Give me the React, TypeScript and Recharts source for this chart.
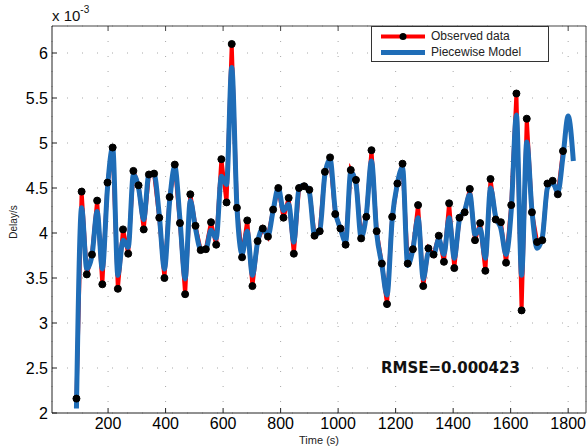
import { CartesianGrid, Line, LineChart, XAxis, YAxis } from "recharts";

// sample times (s)
const times = [
  90, 108, 126, 144, 162, 180, 198, 216, 234, 252, 270, 288, 306, 324, 342, 360, 378, 396, 414, 432,
  450, 468, 486, 504, 522, 540, 558, 576, 594, 612, 630, 648, 666, 684, 702, 720, 738, 756, 774, 792,
  810, 828, 846, 864, 882, 900, 918, 936, 954, 972, 990, 1008, 1026, 1044, 1062, 1080, 1098, 1116, 1134, 1152,
  1170, 1188, 1206, 1224, 1242, 1260, 1278, 1296, 1314, 1332, 1350, 1368, 1386, 1404, 1422, 1440, 1458, 1476, 1494, 1512,
  1530, 1548, 1566, 1584, 1602, 1620, 1638, 1656, 1674, 1692, 1710, 1728, 1746, 1764, 1782, 1800, 1818,
];

// observed delay (x 10^-3 s)
const observed = [
  2.16, 4.46, 3.54, 3.76, 4.36, 3.43, 4.56, 4.95, 3.38, 4.04, 3.77, 4.69, 4.53, 4.04, 4.65, 4.66, 4.17, 3.5, 4.4, 4.76,
  4.11, 3.32, 4.43, 4.08, 3.81, 3.82, 4.12, 3.87, 4.82, 4.34, 6.1, 4.28, 3.73, 4.14, 3.41, 3.91, 4.05, 3.96, 4.26, 4.5,
  4.17, 4.39, 3.77, 4.5, 4.52, 4.48, 3.97, 4.02, 4.68, 4.84, 4.21, 4.05, 3.87, 4.7, 4.59, 3.94, 4.18, 4.92, 4.02, 3.66,
  3.21, 4.18, 4.55, 4.77, 3.66, 3.82, 4.31, 3.41, 3.83, 3.76, 3.97, 3.68, 4.33, 3.61, 4.17, 4.23, 4.49, 3.92, 4.11, 3.58,
  4.6, 4.15, 4.12, 3.67, 4.31, 5.55, 3.14, 5.27, 4.23, 3.9, 3.92, 4.55, 4.58, 4.43, 4.91,
];

// piecewise model (x 10^-3 s)
const model = [
  2.05, 4.28, 3.6, 3.75, 4.24, 3.6, 4.5, 4.95, 3.53, 3.92, 3.84, 4.65, 4.5, 4.15, 4.65, 4.65, 4.2, 3.6, 4.35, 4.74,
  4.15, 3.49, 4.36, 4.05, 3.82, 3.82, 4.03, 3.94, 4.63, 4.54, 5.84, 4.3, 3.77, 4.02, 3.53, 3.9, 4.05, 3.97, 4.25, 4.5,
  4.25, 4.32, 3.9, 4.5, 4.53, 4.45, 3.98, 4.02, 4.65, 4.82, 4.25, 4.05, 3.9, 4.68, 4.55, 3.95, 4.2, 4.8, 4.0, 3.65,
  3.31, 4.15, 4.55, 4.73, 3.64, 3.82, 4.17, 3.49, 3.78, 3.76, 3.93, 3.76, 4.17, 3.72, 4.15, 4.25, 4.43, 3.98, 4.05, 3.72,
  4.5, 4.18, 4.05, 3.76, 4.25, 5.31, 3.53, 5.01, 4.25, 3.83, 3.95, 4.5, 4.56, 4.45, 4.85, 5.3, 4.8,
];

const xTicks = [200, 400, 600, 800, 1000, 1200, 1400, 1600, 1800];
const yTicks = [2, 2.5, 3, 3.5, 4, 4.5, 5, 5.5, 6];

const data = times.map((t, i) => ({
  t,
  obs: i < observed.length ? observed[i] : null,
  model: model[i],
}));

const font = "'Liberation Sans', Arial, sans-serif";
const emptyTick = () => <g />;

export default function App() {
  return (
    <div style={{ position: "absolute", left: 0, top: 0, width: 587, height: 447, background: "#fff", fontFamily: font }}>
      <LineChart width={587} height={447} data={data} margin={{ top: 25, right: 0, bottom: 12, left: 0 }}>
        <CartesianGrid stroke="#a8a8a8" strokeDasharray="1 14" />
        <XAxis
          dataKey="t"
          type="number"
          domain={[5, 1862]}
          ticks={xTicks}
          allowDataOverflow
          height={22}
          tickSize={-5}
          tickMargin={10}
          stroke="#222"
          tick={{ fill: "#000", fontSize: 16, fontFamily: font }}
        />
        <XAxis xAxisId="top" orientation="top" dataKey="t" type="number" domain={[5, 1862]} ticks={xTicks}
          height={1} tickSize={-5} stroke="#444" tick={emptyTick} />
        <YAxis
          type="number"
          domain={[2, 6.3]}
          ticks={yTicks}
          allowDataOverflow
          width={52}
          tickSize={-5}
          tickMargin={9}
          stroke="#222"
          tick={{ fill: "#000", fontSize: 16, fontFamily: font }}
        />
        <YAxis yAxisId="right" orientation="right" domain={[2, 6.3]} ticks={yTicks} width={1}
          tickSize={-5} stroke="#444" tick={emptyTick} />
        <Line dataKey="obs" type="linear" stroke="#ff0000" strokeWidth={4} dot={false} isAnimationActive={false} />
        <Line dataKey="model" type="monotone" stroke="#1f6db7" strokeWidth={5} dot={false} isAnimationActive={false} />
        <Line dataKey="obs" type="linear" stroke="none" dot={{ r: 3.5, fill: "#000", stroke: "#000", strokeWidth: 1 }}
          activeDot={false} isAnimationActive={false} />
      </LineChart>

      <div style={{ position: "absolute", left: 52, top: 6, fontSize: 15, color: "#111" }}>
        x 10<sup style={{ fontSize: 10, position: "relative", top: -2 }}>-3</sup>
      </div>
      <div style={{ position: "absolute", left: 13, top: 222, fontSize: 10, color: "#222", transform: "translate(-50%, -50%) rotate(-90deg)", whiteSpace: "nowrap" }}>
        Delay/s
      </div>
      <div style={{ position: "absolute", left: 319, top: 440, fontSize: 11, color: "#222", transform: "translate(-50%, -50%)", whiteSpace: "nowrap" }}>
        Time (s)
      </div>
      <div style={{ position: "absolute", left: 381, top: 359, fontSize: 15, fontWeight: "bold", color: "#111", fontFamily: "'DejaVu Sans', Verdana, sans-serif", whiteSpace: "nowrap" }}>
        RMSE=0.000423
      </div>

      <div style={{ position: "absolute", left: 371, top: 26, width: 176, height: 34, border: "1px solid #333", background: "#fff" }}>
        <svg width={176} height={34} style={{ position: "absolute", left: 0, top: 0 }}>
          <line x1={9} x2={53} y1={9.5} y2={9.5} stroke="#ff0000" strokeWidth={4} />
          <circle cx={31} cy={9.5} r={3.5} fill="#000" />
          <line x1={9} x2={53} y1={25.5} y2={25.5} stroke="#1f6db7" strokeWidth={5} />
        </svg>
        <div style={{ position: "absolute", left: 59, top: 2, fontSize: 12, color: "#222", whiteSpace: "nowrap" }}>Observed data</div>
        <div style={{ position: "absolute", left: 59, top: 18, fontSize: 12, color: "#222", whiteSpace: "nowrap" }}>Piecewise Model</div>
      </div>
    </div>
  );
}
